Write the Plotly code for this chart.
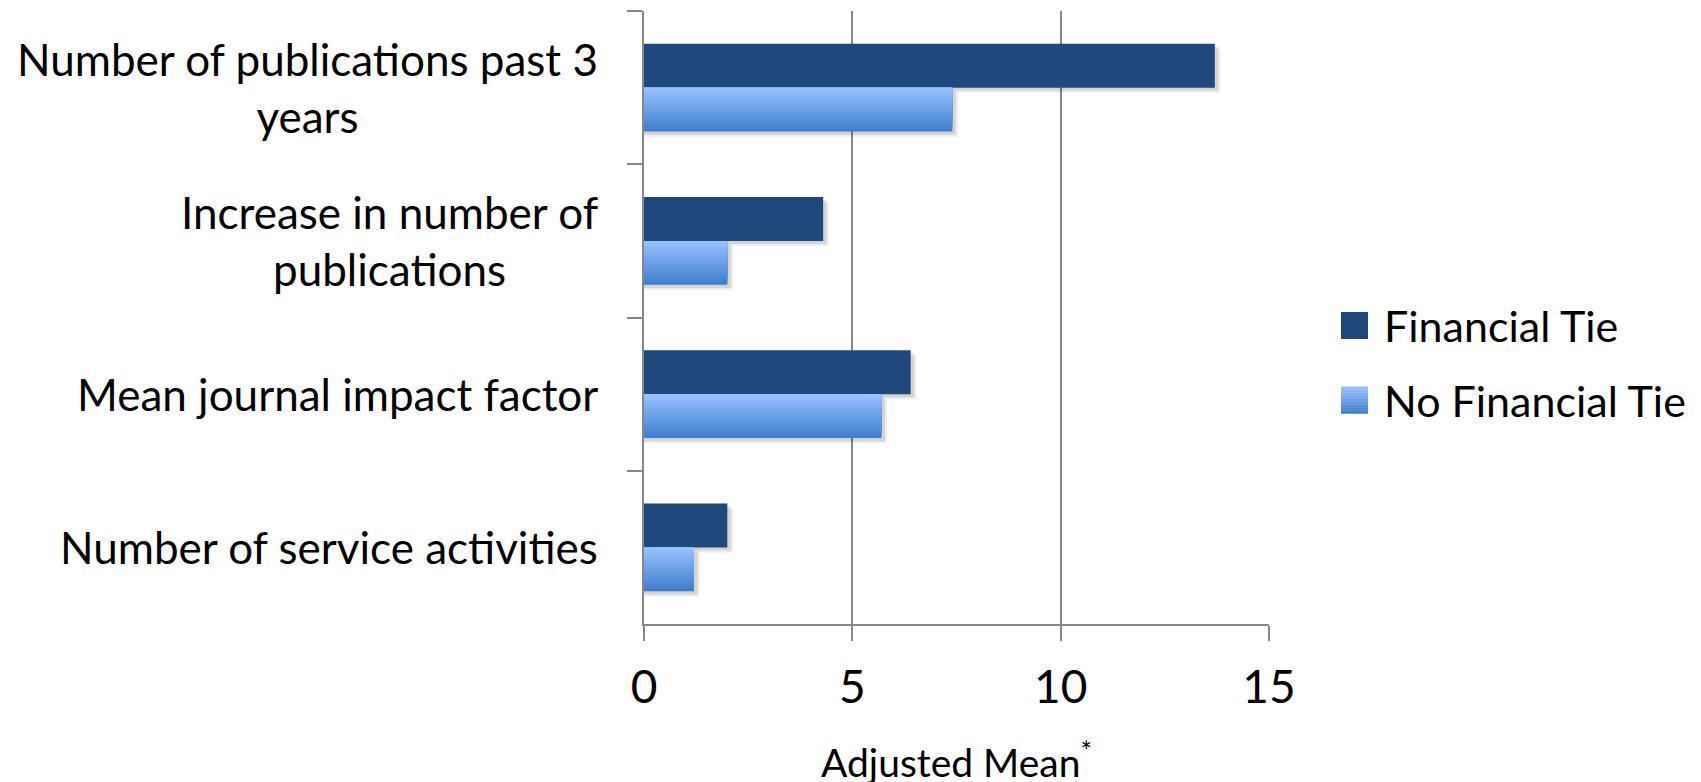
import plotly.graph_objects as go

# ---------------- data ----------------
categories = [
    "Number of publications past 3 years",
    "Increase in number of publications",
    "Mean journal impact factor",
    "Number of service activities",
]
category_labels = [
    "Number of publications past 3<br>years",
    "Increase in number of<br>publications",
    "Mean journal impact factor",
    "Number of service activities",
]
series_names = ["Financial Tie", "No Financial Tie"]
financial_tie = [13.7, 4.3, 6.4, 2.0]
no_financial_tie = [7.4, 2.0, 5.7, 1.2]
x_ticks = [0, 5, 10, 15]
x_title = "Adjusted Mean<sup>*</sup>"

# ---------------- style ----------------
W, H = 1701, 782          # page size
OFF = 8                   # default body margin of the html page
L, R, T, B = 644, 432, 11, 158   # plot area position on the page
plot_w = W - L - R
plot_h = H - T - B
FONT = "Lato"
FS_CAT = 44
FS_TICK = 46
FS_LEG = 43
FS_TITLE = 39
DARK = "#1F497D"
LIGHT_TOP = (155, 194, 255)
LIGHT_BOT = (60, 125, 205)
GRID = "#878787"
BAR_W = 0.287
N_GRAD = 16
X_MAX = 15


def mix(f):
    c = [round(LIGHT_TOP[i] + (LIGHT_BOT[i] - LIGHT_TOP[i]) * f) for i in range(3)]
    return "rgb(%d,%d,%d)" % tuple(c)


def px_x(x):
    return (x - L) / plot_w


def px_y(y):
    return 1 - (y - T) / plot_h


dx = 3.5 / (plot_w / X_MAX)
dy = 3.5 / (plot_h / len(categories))

fig = go.Figure()

# soft drop shadows
for vals, off in [(financial_tie, -BAR_W), (no_financial_tie, 0.0)]:
    for k, a in [(1.6, 0.07), (1.0, 0.10)]:
        fig.add_trace(go.Bar(
            y=categories, x=[v + dx * k for v in vals], orientation="h",
            offset=off + dy * k * 0.9, width=BAR_W,
            marker=dict(color="rgba(0,0,0,%.2f)" % a, line=dict(width=0)),
            hoverinfo="skip", showlegend=False,
        ))

# Financial Tie (solid dark blue)
fig.add_trace(go.Bar(
    y=categories, x=financial_tie, orientation="h", name=series_names[0],
    offset=-BAR_W, width=BAR_W,
    marker=dict(color=DARK, line=dict(width=0)), showlegend=False,
))

# No Financial Tie (vertical gradient built from stacked layers)
for k in range(N_GRAD):
    frac = (N_GRAD - k) / N_GRAD
    f = (N_GRAD - k - 0.5) / N_GRAD
    fig.add_trace(go.Bar(
        y=categories, x=no_financial_tie, orientation="h", name=series_names[1],
        offset=0.0, width=BAR_W * frac,
        marker=dict(color=mix(f), line=dict(width=0)), showlegend=False,
        hoverinfo="skip" if k else None,
    ))

annotations = []
# category labels (centered multi-line)
for cat, lab in zip(categories, category_labels):
    annotations.append(dict(
        xref="paper", yref="y", x=0, y=cat, xshift=-44,
        xanchor="right", yanchor="middle", align="center",
        text=lab, showarrow=False,
        font=dict(family=FONT, size=FS_CAT, color="black"),
    ))

# axis title
annotations.append(dict(
    xref="paper", yref="paper", x=0.5, y=px_y(759),
    xanchor="center", yanchor="middle", text=x_title, showarrow=False,
    font=dict(family=FONT, size=FS_TITLE, color="black"),
))

# manual legend
shapes = []
sq = 27
leg_x = 1341
leg_centers = [325.5, 400]
for i, (name, cy) in enumerate(zip(series_names, leg_centers)):
    y0, y1 = cy - sq / 2, cy + sq / 2
    if i == 0:
        shapes.append(dict(type="rect", xref="paper", yref="paper",
                           x0=px_x(leg_x), x1=px_x(leg_x + sq),
                           y0=px_y(y1), y1=px_y(y0),
                           fillcolor=DARK, line=dict(width=0), layer="above"))
    else:
        n = 9
        for k in range(n):
            yt = y0 + sq * k / n
            yb = y0 + sq * (k + 1) / n
            shapes.append(dict(type="rect", xref="paper", yref="paper",
                               x0=px_x(leg_x), x1=px_x(leg_x + sq),
                               y0=px_y(yb + 0.3), y1=px_y(yt),
                               fillcolor=mix((k + 0.5) / n), line=dict(width=0),
                               layer="above"))
    annotations.append(dict(
        xref="paper", yref="paper", x=px_x(leg_x + sq + 14), y=px_y(cy),
        xanchor="left", yanchor="middle", text=name, showarrow=False,
        font=dict(family=FONT, size=FS_LEG, color="black"),
    ))

fig.update_layout(
    width=W - OFF, height=H - OFF,
    margin=dict(l=L - OFF, r=R, t=T - OFF, b=B, pad=0),
    paper_bgcolor="white", plot_bgcolor="white",
    barmode="overlay",
    showlegend=False,
    font=dict(family=FONT, size=FS_CAT, color="black"),
    annotations=annotations,
    shapes=shapes,
)

fig.update_xaxes(
    range=[0, X_MAX], tickvals=x_ticks, ticktext=[str(t) for t in x_ticks],
    showgrid=True, gridcolor=GRID, gridwidth=2,
    showline=True, linecolor=GRID, linewidth=2,
    ticks="outside", ticklen=15, tickwidth=2, tickcolor=GRID,
    tickfont=dict(family=FONT, size=FS_TICK, color="black"),
    ticklabelstandoff=7, zeroline=False, fixedrange=True,
)
fig.update_yaxes(
    type="category", categoryorder="array", categoryarray=categories,
    autorange="reversed",
    showgrid=False, showline=True, linecolor=GRID, linewidth=2,
    ticks="outside", ticklen=15, tickwidth=2, tickcolor=GRID,
    tickson="boundaries", showticklabels=False, zeroline=False,
    fixedrange=True,
)

fig.write_html("out.html")
